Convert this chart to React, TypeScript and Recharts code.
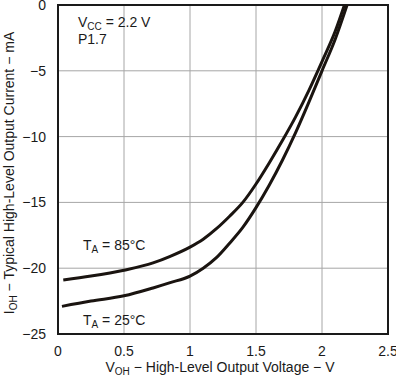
import { CartesianGrid, Customized, Line, LineChart, XAxis, YAxis } from "recharts";

const xTicks = [0, 0.5, 1, 1.5, 2, 2.5];
const yTicks = [0, -5, -10, -15, -20, -25];

// TA = 85°C
const voltage85 = [0.04, 0.25, 0.5, 0.72, 0.85, 1.0, 1.1, 1.2, 1.3, 1.4, 1.5, 1.6, 1.7, 1.8, 1.9, 2.0, 2.1, 2.17];
const current85 = [-20.9, -20.6, -20.15, -19.6, -19.1, -18.4, -17.8, -17.0, -16.05, -15.0, -13.6, -12.0, -10.3, -8.5, -6.5, -4.3, -2.0, 0];

// TA = 25°C
const voltage25 = [0.03, 0.25, 0.5, 0.72, 0.85, 1.0, 1.1, 1.2, 1.3, 1.4, 1.5, 1.6, 1.7, 1.8, 1.9, 2.0, 2.1, 2.19];
const current25 = [-22.9, -22.5, -22.1, -21.5, -21.1, -20.6, -20.0, -19.2, -18.1, -16.9, -15.4, -13.7, -11.8, -9.7, -7.4, -5.0, -2.6, 0];

const data85 = voltage85.map((v, i) => ({ v, i: current85[i] }));
const data25 = voltage25.map((v, i) => ({ v, i: current25[i] }));

const FONT = "'Liberation Sans', Arial, sans-serif";

const fmtNeg = (value: number) => (value < 0 ? `\u2212${Math.abs(value)}` : `${value}`);

function Labels() {
  return (
    <g fontFamily={FONT} fill="#1a1a1a" fontSize={14}>
      <text x={78} y={27}>
        V<tspan fontSize={10} dy={3}>CC</tspan>
        <tspan dy={-3}> = 2.2 V</tspan>
      </text>
      <text x={78} y={44}>P1.7</text>
      <text x={83} y={250}>
        T<tspan fontSize={10} dy={3}>A</tspan>
        <tspan dy={-3}> = 85°C</tspan>
      </text>
      <text x={83} y={325}>
        T<tspan fontSize={10} dy={3}>A</tspan>
        <tspan dy={-3}> = 25°C</tspan>
      </text>
      <text x={220} y={372} textAnchor="middle">
        V<tspan fontSize={10} dy={3}>OH</tspan>
        <tspan dy={-3}> {"\u2212"} High-Level Output Voltage {"\u2212"} V</tspan>
      </text>
      <text x={14} y={173} textAnchor="middle" transform="rotate(-90 14 173)">
        I<tspan fontSize={10} dy={3}>OH</tspan>
        <tspan dy={-3}> {"\u2212"} Typical High-Level Output Current {"\u2212"} mA</tspan>
      </text>
    </g>
  );
}

export default function App() {
  return (
    <div style={{ position: "absolute", left: 0, top: 0, width: 396, height: 377, background: "#fff" }}>
      <LineChart width={396} height={377} margin={{ top: 5, right: 8, left: 0, bottom: 0 }}>
        <CartesianGrid stroke="#a6a6a6" strokeWidth={1} />
        <XAxis
          type="number"
          dataKey="v"
          domain={[0, 2.5]}
          ticks={xTicks}
          interval={0}
          allowDuplicatedCategory={false}
          tickLine={false}
          axisLine={false}
          height={43}
          tick={{ fontSize: 14, fill: "#1a1a1a", fontFamily: FONT }}
          tickMargin={6}
        />
        <YAxis
          type="number"
          domain={[-25, 0]}
          ticks={yTicks}
          interval={0}
          tickFormatter={fmtNeg}
          tickLine={false}
          axisLine={false}
          width={58}
          tick={{ fontSize: 14, fill: "#1a1a1a", fontFamily: FONT }}
          tickMargin={6}
        />
        <Line
          data={data85}
          dataKey="i"
          type="monotone"
          stroke="#1a1410"
          strokeWidth={3}
          dot={false}
          isAnimationActive={false}
        />
        <Line
          data={data25}
          dataKey="i"
          type="monotone"
          stroke="#1a1410"
          strokeWidth={3}
          dot={false}
          isAnimationActive={false}
        />
        <Customized
          component={(props: any) => {
            const off = props.offset || { left: 58, top: 5, width: 330, height: 329 };
            return (
              <rect
                x={off.left}
                y={off.top}
                width={off.width}
                height={off.height}
                fill="none"
                stroke="#1a1a1a"
                strokeWidth={2}
              />
            );
          }}
        />
        <Customized component={Labels} />
      </LineChart>
    </div>
  );
}
